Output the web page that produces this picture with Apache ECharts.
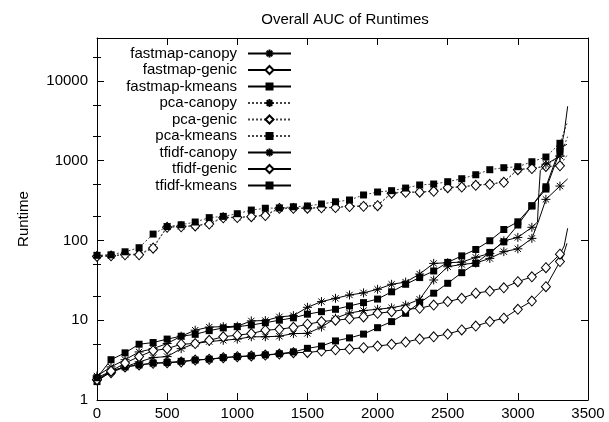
<!DOCTYPE html>
<html>
<head>
<meta charset="utf-8">
<script src="https://cdn.jsdelivr.net/npm/echarts@6/dist/echarts.min.js"></script>
<style>
  html, body { margin: 0; padding: 0; background: #fff; }
  #chart { width: 609px; height: 422px; }
</style>
</head>
<body>
<div id="chart"></div>
<script>
  // x positions where the markers sit
  const runIdx = [0, 100, 200, 300, 400, 500, 600, 700, 800, 900, 1000, 1100, 1200, 1300, 1400, 1500, 1600,
    1700, 1800, 1900, 2000, 2100, 2200, 2300, 2400, 2500, 2600, 2700, 2800, 2900, 3000, 3100, 3200, 3300]

  const fastmapCanopy = [1.9, 2.3, 2.6, 3.0, 3.4, 3.5, 4.4, 5.1, 5.4, 5.6, 5.8, 6.2, 6.2, 6.3, 6.8, 6.84, 8.2,
    10.6, 12.3, 13.2, 13.7, 14.3, 15.5, 18.3, 31.9, 46.8, 50, 52, 59.5, 72.3, 78.4, 106, 327, 480]
  const fastmapCanopyTail = [[3150, 180], [3355, 590]]

  const fastmapGenic = [1.8, 2.2, 2.6, 2.75, 2.88, 2.93, 3.0, 3.17, 3.23, 3.39, 3.49, 3.56, 3.66, 3.77, 3.92, 3.95, 4.1,
    4.25, 4.35, 4.52, 4.75, 4.98, 5.33, 5.81, 6.2, 6.71, 7.54, 8.44, 9.6, 10.6, 13.7, 17.4, 26.3, 54.3]
  const fastmapGenicTail = [[3320, 62], [3350, 92]]

  const fastmapKmeans = [1.7, 2.3, 2.6, 2.75, 2.9, 2.95, 3.05, 3.17, 3.25, 3.4, 3.5, 3.58, 3.68, 3.8, 4.0, 4.44, 4.74,
    5.5, 6.0, 6.7, 8.06, 9.6, 12.2, 16.6, 21.8, 29, 39.4, 51.5, 70.7, 96, 156, 272, 440, 1300]
  const fastmapKmeansTail = [[3330, 2200], [3355, 4800]]

  const pcaCanopy = [64, 64, 67, 67, 82, 148, 150, 154, 163, 195, 195, 200, 208, 255, 255, 255, 258,
    260, 270, 270, 275, 396, 404, 404, 416, 463, 470, 495, 509, 540, 778, 801, 855, 1142]
  const pcaCanopyTail = [[3355, 2000]]

  const pcaGenic = [63, 64, 66, 66, 80, 146, 148, 152, 160, 192, 193, 198, 205, 252, 252, 253, 256,
    258, 266, 267, 272, 390, 400, 402, 412, 458, 466, 490, 505, 535, 770, 795, 845, 860]
  const pcaGenicTail = [[3355, 1200]]

  const pcaKmeans = [65, 66, 72, 81, 120, 149, 157, 170, 193, 200, 216, 240, 253, 255, 264, 270, 286,
    305, 321, 371, 404, 420, 453, 495, 509, 544, 593, 665, 769, 815, 839, 968, 1109, 1648]
  const pcaKmeansTail = [[3355, 3100]]

  const tfidfCanopy = [2.0, 2.6, 3.2, 4.0, 4.4, 5.1, 6.3, 7.5, 8.2, 8.3, 8.4, 9.8, 9.9, 11, 11.4, 14.5, 17.1,
    18.8, 20.7, 22.0, 24.4, 28.2, 30, 37.9, 51.5, 52.5, 53.5, 61.3, 68.7, 98.5, 109, 146, 900, 1140]
  const tfidfCanopyTail = [[3140, 170], [3150, 400], [3160, 750]]

  const tfidfGenic = [1.8, 2.3, 2.9, 3.5, 4.15, 4.4, 5.0, 5.1, 5.6, 6.2, 6.5, 6.8, 7.5, 7.7, 8.15, 8.9, 9.6,
    10, 10.4, 11.0, 12.2, 12.8, 13.7, 14.1, 15.5, 17.1, 18.8, 21.8, 23.2, 25.5, 30.4, 35, 45.5, 67.2]
  const tfidfGenicTail = [[3330, 85], [3355, 142]]

  const tfidfKmeans = [1.9, 3.2, 3.9, 5.0, 5.25, 5.8, 6.3, 6.65, 7.4, 8.0, 8.3, 8.7, 9.3, 10.0, 10.7, 11.9, 12.8,
    13.7, 15.1, 16.6, 18.4, 22.7, 28.2, 34.2, 41.4, 53, 64, 77, 99, 137, 171, 270, 470, 1427]
  const tfidfKmeansTail = [[3350, 1600]]

  const xTicks = [0, 500, 1000, 1500, 2000, 2500, 3000, 3500]
  const yMax = 34400
  const minorTicks = [2, 5, 20, 50, 200, 500, 2000, 5000, 20000]

  const FONT = 'Liberation Sans'
  const STAR = 'path://M0,5L10,5M5,0L5,10M1.5,1.5L8.5,8.5M8.5,1.5L1.5,8.5'
  const marks = {
    star: {symbol: STAR, symbolSize: 9, itemStyle: {color: 'transparent', borderColor: '#000', borderWidth: 1}},
    diamond: {symbol: 'diamond', symbolSize: [9, 10], itemStyle: {color: '#fff', borderColor: '#000', borderWidth: 1}},
    square: {symbol: 'rect', symbolSize: 7, itemStyle: {color: '#000'}}
  }

  function buildData(vals, tail) {
    const pts = runIdx.map((x, i) => [x, vals[i]])
      .concat(tail.map(p => ({value: p, symbol: 'none'})))
    return pts.sort((a, b) => (a.value || a)[0] - (b.value || b)[0])
  }

  function makeSeries(name, vals, tail, mark, dotted) {
    const m = marks[mark]
    return {
      name: name,
      type: 'line',
      data: buildData(vals, tail),
      symbol: m.symbol,
      symbolSize: m.symbolSize,
      showAllSymbol: true,
      itemStyle: m.itemStyle,
      lineStyle: {color: dotted ? '#444' : '#000', width: 1, type: dotted ? [2, 2] : 'solid'},
      emphasis: {disabled: true},
      z: dotted ? 2 : 3
    }
  }

  const series = [
    makeSeries('fastmap-canopy', fastmapCanopy, fastmapCanopyTail, 'star', false),
    makeSeries('fastmap-genic', fastmapGenic, fastmapGenicTail, 'diamond', false),
    makeSeries('fastmap-kmeans', fastmapKmeans, fastmapKmeansTail, 'square', false),
    makeSeries('pca-canopy', pcaCanopy, pcaCanopyTail, 'star', true),
    makeSeries('pca-genic', pcaGenic, pcaGenicTail, 'diamond', true),
    makeSeries('pca-kmeans', pcaKmeans, pcaKmeansTail, 'square', true),
    makeSeries('tfidf-canopy', tfidfCanopy, tfidfCanopyTail, 'star', false),
    makeSeries('tfidf-genic', tfidfGenic, tfidfGenicTail, 'diamond', false),
    makeSeries('tfidf-kmeans', tfidfKmeans, tfidfKmeansTail, 'square', false)
  ]

  const axisLine = {show: true, onZero: false, lineStyle: {color: '#000', width: 1}}
  const labelStyle = {color: '#000', fontSize: 15, fontFamily: FONT}
  const plain = v => String(Math.round(v))

  function xAxis(pos, labels) {
    return {
      type: 'value', position: pos, min: xTicks[0], max: xTicks[xTicks.length - 1], interval: 500,
      axisLine: axisLine,
      axisTick: {show: true, inside: true, length: 7, lineStyle: {color: '#000'}},
      axisLabel: {show: labels, margin: 6, formatter: plain, ...labelStyle},
      splitLine: {show: false}
    }
  }

  function yLog(pos, labels) {
    return {
      type: 'log', logBase: 10, position: pos, min: 1, max: yMax,
      name: labels ? 'Runtime' : '', nameLocation: 'middle', nameGap: 66, nameRotate: 90,
      nameTextStyle: labelStyle,
      axisLine: axisLine,
      axisTick: {show: true, inside: true, length: 7, lineStyle: {color: '#000'}},
      axisLabel: {show: labels, margin: 9, showMaxLabel: false, formatter: plain, ...labelStyle},
      splitLine: {show: false}
    }
  }

  function yMinor(pos) {
    return {
      type: 'value', position: pos, min: 0, max: Math.log10(yMax),
      axisLine: {show: false},
      axisTick: {show: true, inside: true, length: 4, lineStyle: {color: '#000'},
        customValues: minorTicks.map(v => Math.log10(v))},
      axisLabel: {show: false},
      splitLine: {show: false}
    }
  }

  const chart = echarts.init(document.getElementById('chart'))
  chart.setOption({
    animation: false,
    backgroundColor: '#fff',
    title: {
      text: 'Overall AUC of Runtimes',
      left: 340, top: 7, textAlign: 'center',
      textStyle: {color: '#000', fontSize: 15, fontWeight: 'normal', fontFamily: FONT}
    },
    legend: {
      orient: 'vertical',
      align: 'right',
      right: 317, top: 46,
      padding: 0,
      itemWidth: 43, itemHeight: 10, itemGap: 1.5,
      selectedMode: false,
      textStyle: {color: '#000', fontSize: 15, fontFamily: FONT, padding: [0, 6, 0, 0]},
      data: series.map(s => s.name)
    },
    grid: {left: 97, right: 21, top: 38, bottom: 22, containLabel: false},
    xAxis: [xAxis('bottom', true), xAxis('top', false)],
    yAxis: [yLog('left', true), yLog('right', false), yMinor('left'), yMinor('right')],
    series: series
  })
</script>
</body>
</html>
